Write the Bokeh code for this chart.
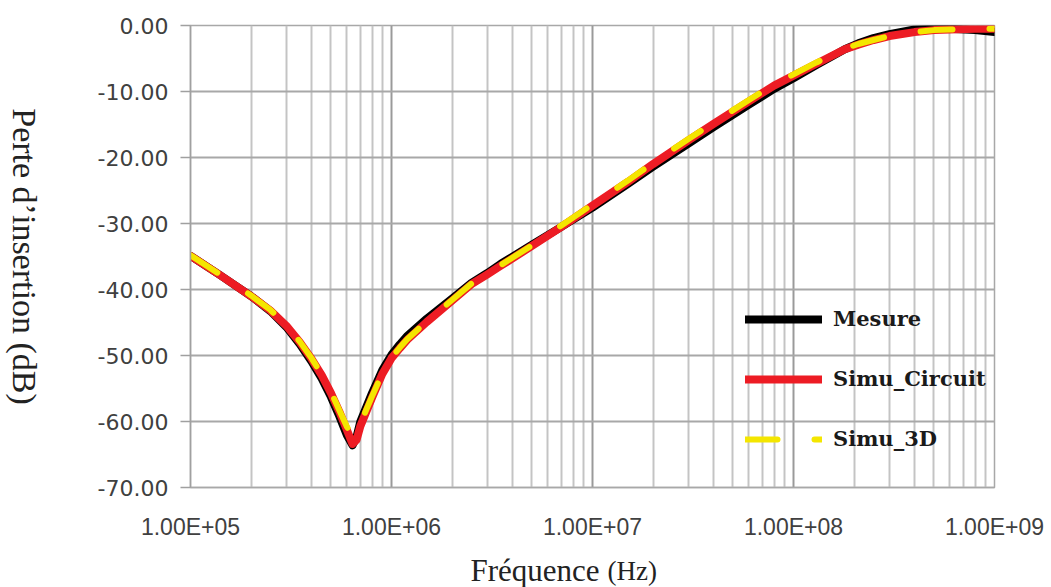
import math
from bokeh.plotting import figure
from bokeh.layouts import row, column
from bokeh.models import (Range1d, FixedTicker, PrintfTickFormatter, CustomJSTickFormatter,
                          Legend, LegendItem, Label)
from bokeh.embed import file_html
from bokeh.resources import INLINE

# ---- data ----
freq_hz = [1e5, 1.4e5, 2e5, 2.5e5, 3e5, 3.5e5, 4e5, 4.5e5, 5e5, 5.5e5, 6e5, 6.4e5, 6.7e5,
           7e5, 8e5, 9e5, 1e6, 1.1e6, 1.2e6, 1.5e6, 2e6, 2.5e6, 3e6, 3.5e6, 5e6, 7e6, 1e7,
           1.5e7, 2e7, 3e7, 4e7, 6e7, 8e7, 1e8, 1.3e8, 1.8e8, 2.1e8, 2.5e8, 3e8, 4e8, 5e8,
           6e8, 8e8, 1e9]

mesure_db = [-34.9, -37.8, -41.0, -43.3, -45.7, -48.3, -50.9, -53.5, -56.3, -59.2, -62.1,
             -63.6, -62.3, -60.0, -55.7, -52.2, -49.9, -48.3, -47.0, -44.4, -41.4, -39.0,
             -37.5, -36.1, -33.2, -30.5, -27.6, -24.0, -21.4, -17.9, -15.4, -12.0, -9.6,
             -8.0, -6.0, -3.6, -2.7, -1.9, -1.3, -0.6, -0.5, -0.5, -0.7, -1.0]

simu_circuit_db = [-34.9, -37.8, -41.0, -43.2, -45.5, -48.0, -50.5, -53.0, -55.7, -58.5,
                   -61.3, -63.4, -62.8, -60.7, -56.4, -52.8, -50.4, -48.9, -47.6, -44.9,
                   -41.7, -39.2, -37.7, -36.4, -33.4, -30.5, -27.3, -23.7, -21.0, -17.4,
                   -14.9, -11.5, -9.1, -7.6, -5.8, -3.6, -2.9, -2.2, -1.6, -1.0, -0.7,
                   -0.6, -0.5, -0.5]

simu_3d_db = [-34.8, -37.7, -40.9, -43.1, -45.4, -47.9, -50.4, -52.9, -55.5, -58.3, -60.8,
              -62.2, -61.9, -60.3, -56.2, -52.7, -50.3, -48.8, -47.5, -44.8, -41.6, -39.1,
              -37.6, -36.3, -33.3, -30.3, -27.1, -23.5, -20.8, -17.2, -14.7, -11.3, -8.9,
              -7.4, -5.6, -3.5, -2.8, -2.2, -1.6, -1.0, -0.7, -0.6, -0.5, -0.5]

series_names = ["Mesure", "Simu_Circuit", "Simu_3D"]

x_ticks = [1e5, 1e6, 1e7, 1e8, 1e9]
x_tick_labels = ["1.00E+05", "1.00E+06", "1.00E+07", "1.00E+08", "1.00E+09"]
x_minor_ticks = [m * d for d in (1e5, 1e6, 1e7, 1e8) for m in range(2, 10)]
y_ticks = [0, -10, -20, -30, -40, -50, -60, -70]
y_tick_labels = ["0.00", "-10.00", "-20.00", "-30.00", "-40.00", "-50.00", "-60.00", "-70.00"]

x_title_main = "Fréquence"
x_title_unit = "(Hz)"
y_title = "Perte d’insertion (dB)"

TITLE_W = 50
TITLE_H = 45
W, H = 1051, 587
FRAME_TOP, FRAME_BOTTOM = 25, 488

# ---- main chart ----
p = figure(width=W - TITLE_W, height=H - TITLE_H, x_axis_type="log", output_backend="svg",
           toolbar_location=None, x_range=Range1d(1e5, 1e9), y_range=Range1d(-70, 0),
           min_border_left=190 - TITLE_W, min_border_right=57, min_border_top=FRAME_TOP,
           min_border_bottom=H - TITLE_H - FRAME_BOTTOM)
p.background_fill_color = "white"
p.border_fill_color = "white"
p.outline_line_color = "#a8a8a8"
p.outline_line_width = 1.5

p.xaxis.ticker = FixedTicker(ticks=x_ticks, minor_ticks=x_minor_ticks)
p.xaxis.formatter = CustomJSTickFormatter(code="""
const e = Math.round(Math.log10(tick));
return (tick/Math.pow(10, e)).toFixed(2) + "E+" + String(e).padStart(2, "0");
""")
p.xaxis.major_label_overrides = {float(t): lab for t, lab in zip(x_ticks, x_tick_labels)}
p.xaxis.major_tick_line_color = None
p.xaxis.minor_tick_line_color = None
p.xaxis.axis_line_color = "#a8a8a8"
p.xaxis.axis_line_width = 1.5
p.xaxis.major_label_standoff = 20
p.xaxis.major_label_text_font = "Liberation Sans"
p.xaxis.major_label_text_font_size = "23px"
p.xaxis.major_label_text_color = "#404040"

p.yaxis.ticker = FixedTicker(ticks=y_ticks)
p.yaxis.formatter = PrintfTickFormatter(format="%.2f")
p.yaxis.major_label_overrides = {int(t): lab for t, lab in zip(y_ticks, y_tick_labels)}
p.yaxis.major_tick_out = 10
p.yaxis.major_tick_in = 0
p.yaxis.major_tick_line_color = "#a0a0a0"
p.yaxis.major_tick_line_width = 1.5
p.yaxis.minor_tick_line_color = None
p.yaxis.axis_line_color = "#a0a0a0"
p.yaxis.axis_line_width = 1.5
p.yaxis.major_label_standoff = 12
p.yaxis.major_label_text_font = "DejaVu Sans"
p.yaxis.major_label_text_font_size = "22px"
p.yaxis.major_label_text_color = "#404040"

p.xgrid.grid_line_color = "#9a9a9a"
p.xgrid.grid_line_width = 2
p.xgrid.minor_grid_line_color = "#c4c4c4"
p.xgrid.minor_grid_line_width = 2
p.ygrid.grid_line_color = "#a8a8a8"
p.ygrid.grid_line_width = 2

r_mes = p.line(freq_hz, mesure_db, line_color="#000000", line_width=8,
               line_join="round", line_cap="round")
r_cir = p.line(freq_hz, simu_circuit_db, line_color="#ed1c24", line_width=8,
               line_join="round", line_cap="round")
r_3d = p.line(freq_hz, simu_3d_db, line_color="#f4e600", line_width=6,
              line_dash="32 37", line_join="round", line_cap="round")

legend = Legend(items=[LegendItem(label=series_names[0], renderers=[r_mes]),
                       LegendItem(label=series_names[1], renderers=[r_cir]),
                       LegendItem(label=series_names[2], renderers=[r_3d])],
                location=(555, 36), orientation="vertical",
                glyph_width=77, glyph_height=24, label_height=24, spacing=35,
                label_standoff=11, padding=0, margin=0,
                border_line_color=None, background_fill_alpha=0,
                label_text_font="DejaVu Serif", label_text_font_style="bold",
                label_text_font_size="21px", label_text_color="#1a1a1a")
p.add_layout(legend, "center")

# ---- y title strip (text reads top to bottom); its frame is aligned with p's frame ----
yt = figure(width=TITLE_W, height=H - TITLE_H, output_backend="svg", toolbar_location=None,
            x_axis_location=None, y_axis_location=None, min_border=0,
            x_range=Range1d(0, 1), y_range=Range1d(0, 1))
yt.outline_line_color = None
yt.grid.visible = False
yt.add_layout(Label(x=24, y=FRAME_BOTTOM - 257, x_units="screen", y_units="screen",
                    text=y_title, angle=-math.pi / 2, text_align="center",
                    text_baseline="alphabetic", text_font="Liberation Serif",
                    text_font_size="34px", text_color="#222222"))

# ---- x title strip ----
xt = figure(width=W, height=TITLE_H, output_backend="svg", toolbar_location=None,
            x_axis_location=None, y_axis_location=None, min_border=0,
            x_range=Range1d(0, 1), y_range=Range1d(0, 1))
xt.outline_line_color = None
xt.grid.visible = False
xt.add_layout(Label(x=470, y=17, x_units="screen", y_units="screen", text=x_title_main,
                    text_align="left", text_baseline="alphabetic",
                    text_font="Liberation Serif", text_font_size="31px",
                    text_color="#222222"))
xt.add_layout(Label(x=607, y=17, x_units="screen", y_units="screen", text=x_title_unit,
                    text_align="left", text_baseline="alphabetic",
                    text_font="Liberation Serif", text_font_size="27px",
                    text_color="#222222"))

layout = column(row(yt, p), xt)
open("out.html", "w").write(file_html(layout, INLINE))
